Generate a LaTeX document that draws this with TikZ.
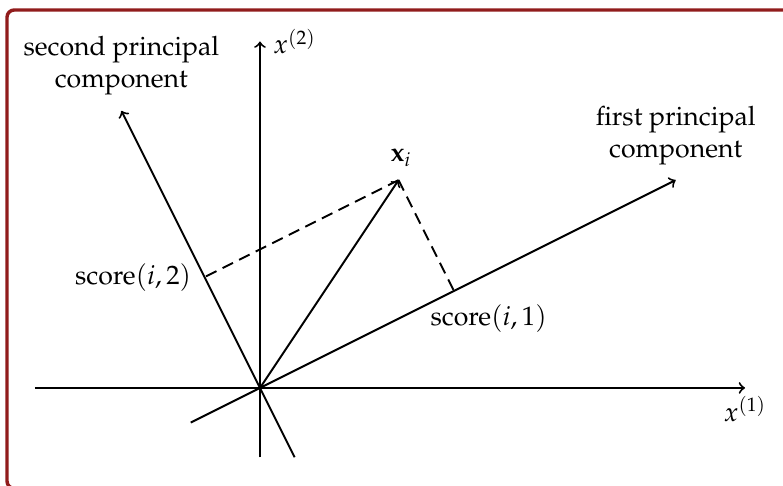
\documentclass[tikz,border=0pt]{standalone}
\usepackage[T1]{fontenc}
\usepackage{mathpazo}
\definecolor{framered}{RGB}{145,28,28}
\begin{document}
\begin{tikzpicture}[x=1cm,y=1cm,
  font=\fontsize{10.95}{13.2}\selectfont,
  axis/.style={thick,->},
  proj/.style={thick,dash pattern=on 4.8pt off 2.8pt},
  frame/.style={framered,line width=1.4pt,rounded corners=3pt}]
\useasboundingbox (-3.752,-1.414) rectangle (7.548,5.599);
\draw[frame] (9,-1.45) -- (-3.651,-1.45) -- (-3.651,5.455) -- (9,5.455);
\coordinate (O) at (0,0);
\coordinate (X1) at (7,0);
\coordinate (X1s) at (-3.25,0);
\coordinate (X2) at (0,5);
\coordinate (X2s) at (0,-1);
\coordinate (P1) at (6,3);
\coordinate (P1s) at (-1,-0.5);
\coordinate (P2) at (-2,4);
\coordinate (P2s) at (0.5,-1);
\coordinate (XI) at (2,3);
\coordinate (F1) at (2.8,1.4);
\coordinate (F2) at (-0.8,1.6);
\draw[axis] (X1s) -- (X1);
\draw[axis] (X2s) -- (X2);
\draw[axis] (P1s) -- (P1);
\draw[axis] (P2s) -- (P2);
\draw[axis] (O) -- (XI);
\draw[proj] (XI) -- (F1);
\draw[proj] (XI) -- (F2);
\node[above,align=center,yshift=3pt] (L2) at (P2) {second principal\\component};
\node[above,align=center,yshift=2.5pt] (L1) at (P1) {first principal\\component};
\node[right,xshift=2pt] (LX2) at (X2) {$x^{(2)}$};
\node[below] (LX1) at (X1) {$x^{(1)}$};
\node[above,yshift=2pt,xshift=1pt] (LXI) at (XI) {$\mathbf{x}_i$};
\node[left,xshift=-2pt] (LS2) at (F2) {score$(i,2)$};
\node (LS1) at (3.3,1.0) {score$(i,1)$};
\end{tikzpicture}
\end{document}
